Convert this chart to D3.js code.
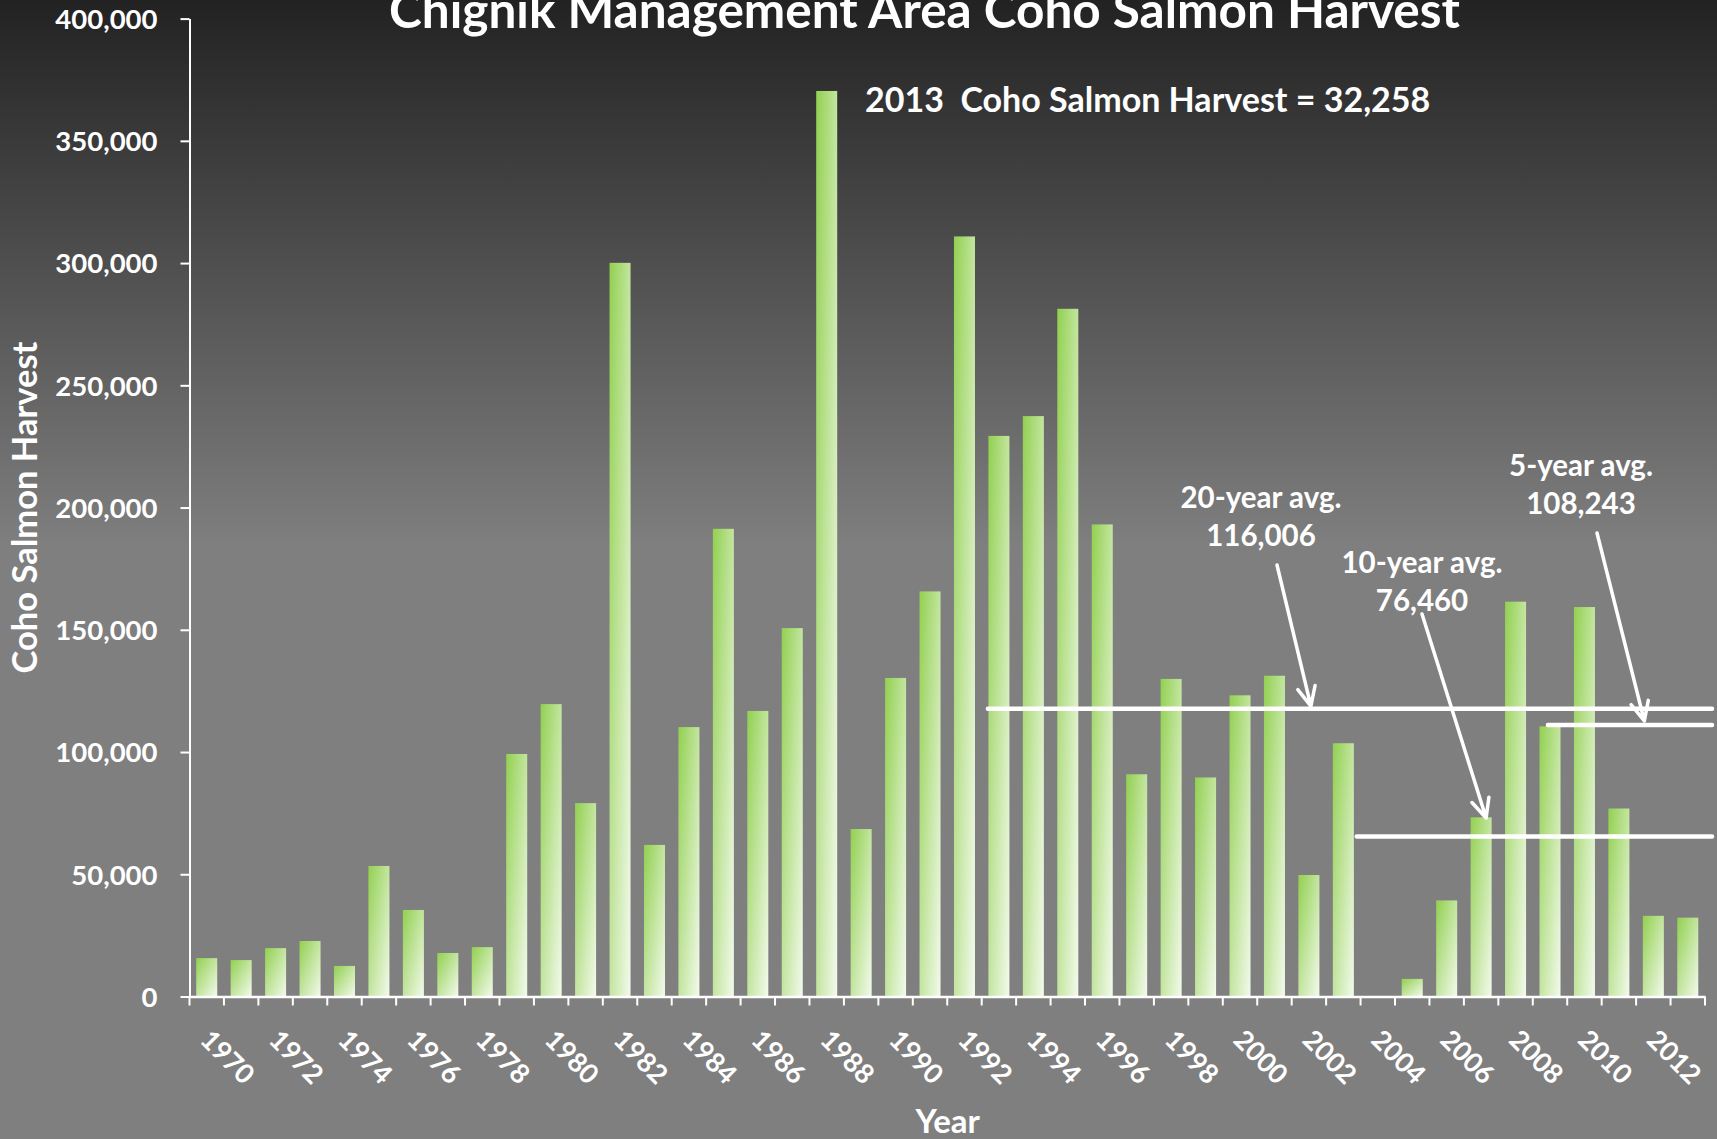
<!DOCTYPE html>
<html><head><meta charset="utf-8">
<script src="https://cdn.jsdelivr.net/npm/d3@7"></script>
<style>
html,body{margin:0;padding:0;background:#7f7f7f;overflow:hidden}
text{font-family:Lato,'Open Sans',sans-serif;font-weight:700;fill:#fff}
</style>
</head><body>
<svg id="c" width="1717" height="1139"></svg>
<script>
// ---------------- data ----------------
const years = [1970,1971,1972,1973,1974,1975,1976,1977,1978,1979,1980,1981,1982,1983,1984,1985,1986,1987,1988,1989,
  1990,1991,1992,1993,1994,1995,1996,1997,1998,1999,2000,2001,2002,2003,2004,2005,2006,2007,2008,2009,2010,2011,2012,2013];
const harvest = [15700,14900,19800,22700,12500,53400,35400,17800,20200,99200,119600,79100,300100,62000,110200,191300,116800,150700,370400,68500,
  130300,165700,310900,229300,237400,281300,193100,90900,129900,89600,123200,131200,49700,103600,0,7200,39300,73300,161500,110500,159300,76900,33000,32258];
const labelYears = [1970,1972,1974,1976,1978,1980,1982,1984,1986,1988,1990,1992,1994,1996,1998,2000,2002,2004,2006,2008,2010,2012];
const yTicks = [0,50000,100000,150000,200000,250000,300000,350000,400000];

const titleText = "Chignik Management Area Coho Salmon Harvest";
const noteText = "2013  Coho Salmon Harvest = 32,258";
const yTitle = "Coho Salmon Harvest";
const xTitle = "Year";

const avgNames = ["20-year avg.","10-year avg.","5-year avg."];
const avgValues = [116006, 76460, 108243];
const avgLineLevel = [117700, 65400, 111100];   // level at which the hand-drawn line sits
const avgLineFromYear = [1993, 2003, 2009];
const avgArrowYear = [2002, 2007, 2012];
const avgArrowValue = [118800, 73000, 112700];

// ---------------- layout ----------------
const W = 1717, H = 1139;
const X0 = 189.5, X1 = 1705, Y0 = 996.5, Y1 = 18.6;
const avgLineFromFrac = [0.18, 0.89, 0.44];
const avgArrowDx = [2, 5, -9];
const avgLabelPos = [[1261,508],[1422,573],[1581,476]];
const avgArrowStart = [[1277,565],[1422,614],[1597,533]];

const x = d3.scaleBand().domain(years).range([X0, X1]).paddingInner(0.39).paddingOuter(0.195);
const y = d3.scaleLinear().domain([0, 400000]).range([Y0, Y1]);

const svg = d3.select('#c');
const defs = svg.append('defs');
const bg = defs.append('linearGradient').attr('id','bg').attr('x1',0).attr('y1',0).attr('x2',0).attr('y2',1);
bg.append('stop').attr('offset','0%').attr('stop-color','#222222');
bg.append('stop').attr('offset','48%').attr('stop-color','#7f7f7f');
bg.append('stop').attr('offset','100%').attr('stop-color','#7f7f7f');
const bar = defs.append('linearGradient').attr('id','bar').attr('x1',0).attr('y1',0).attr('x2',1).attr('y2',1);
bar.append('stop').attr('offset','0%').attr('stop-color','#92d050');
bar.append('stop').attr('offset','100%').attr('stop-color','#f3faed');

svg.append('rect').attr('width',W).attr('height',H).attr('fill','url(#bg)');

// bars
svg.append('g').selectAll('rect')
  .data(years.map((yr,i)=>({yr, v: harvest[i]})))
  .join('rect')
  .attr('x', d=>x(d.yr)).attr('y', d=>y(d.v))
  .attr('width', x.bandwidth()).attr('height', d=>y(0)-y(d.v))
  .attr('fill','url(#bar)');

// y axis
const ya = svg.append('g').attr('transform',`translate(${X0},0)`)
  .call(d3.axisLeft(y).tickValues(yTicks).tickFormat(d3.format(',')).tickSize(9).tickSizeOuter(0).tickPadding(23));
ya.attr('font-size',27.5);
ya.select('.domain').attr('stroke','#fff').attr('stroke-width',2);
ya.selectAll('.tick line').attr('stroke','#fff').attr('stroke-width',2);
ya.selectAll('.tick text').attr('dy','0.36em');

// x axis
const xa = svg.append('g').attr('transform',`translate(0,${Y0})`)
  .call(d3.axisBottom(x).tickValues(labelYears).tickSize(0).tickSizeOuter(0));
xa.attr('font-size',27);
xa.select('.domain').attr('stroke','#fff').attr('stroke-width',2.5);
xa.selectAll('.tick text').attr('y',0).attr('dy',0).attr('text-anchor','start')
  .attr('transform','translate(-8,45) rotate(45)');
const bounds = years.map(yr => x(yr) - (x.step()-x.bandwidth())/2).concat([x.range()[1]]);
svg.append('g').selectAll('line').data(bounds).join('line')
  .attr('x1',d=>d).attr('x2',d=>d).attr('y1',Y0).attr('y2',Y0+9)
  .attr('stroke','#fff').attr('stroke-width',2);

// titles
svg.append('text').attr('x',924.5).attr('y',28).attr('text-anchor','middle').attr('font-size',49.5).text(titleText);
svg.append('text').attr('x',865).attr('y',112).attr('font-size',34).style('white-space','pre').text(noteText);
svg.append('text').attr('transform','translate(37,507.5) rotate(-90)').attr('text-anchor','middle').attr('font-size',34.5).text(yTitle);
svg.append('text').attr('x',947.7).attr('y',1133).attr('text-anchor','middle').attr('font-size',33).text(xTitle);

// average lines, labels and arrows
const fmt = d3.format(',');
avgNames.forEach((name,i)=>{
  const xs = x(avgLineFromYear[i]) - (x.step()-x.bandwidth())/2 + avgLineFromFrac[i]*x.step();
  svg.append('line').attr('x1',xs).attr('x2',x.range()[1]+7)
    .attr('y1',y(avgLineLevel[i])).attr('y2',y(avgLineLevel[i]))
    .attr('stroke','#fff').attr('stroke-width',4.5).attr('stroke-linecap','round');
  const [lx,ly] = avgLabelPos[i];
  svg.append('text').attr('x',lx).attr('y',ly).attr('text-anchor','middle').attr('font-size',29.5).text(name);
  svg.append('text').attr('x',lx).attr('y',ly+38).attr('text-anchor','middle').attr('font-size',29.5).text(fmt(avgValues[i]));
  const [sx,sy] = avgArrowStart[i];
  const tx = x(avgArrowYear[i]) + x.bandwidth()/2 + avgArrowDx[i];
  const ty = y(avgArrowValue[i]);
  const ang = Math.atan2(sy-ty, sx-tx);
  const L = 21, a = 25*Math.PI/180;
  const w1 = [tx + L*Math.cos(ang+a), ty + L*Math.sin(ang+a)];
  const w2 = [tx + L*Math.cos(ang-a), ty + L*Math.sin(ang-a)];
  svg.append('path')
    .attr('d',`M${sx},${sy}L${tx},${ty}M${w1[0]},${w1[1]}L${tx},${ty}L${w2[0]},${w2[1]}`)
    .attr('fill','none').attr('stroke','#fff').attr('stroke-width',3.5).attr('stroke-linecap','round').attr('stroke-linejoin','round');
});
</script>
</body></html>
